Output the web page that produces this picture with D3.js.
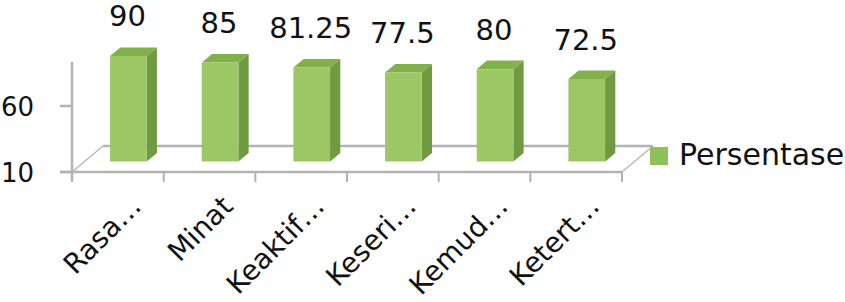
<!DOCTYPE html>
<html>
<head>
<meta charset="utf-8">
<script src="https://cdn.jsdelivr.net/npm/d3@7"></script>
<style>
  html, body { margin: 0; padding: 0; background: #ffffff; }
  svg { display: block; }
  text { font-family: "DejaVu Sans", sans-serif; fill: #111; }
</style>
</head>
<body>
<div id="chart"></div>
<script>
// ---- data ----
const categories = ["Rasa…", "Minat", "Keaktif…", "Keseri…", "Kemud…", "Ketert…"];
const values = [90, 85, 81.25, 77.5, 80, 72.5];
const valueLabels = ["90", "85", "81.25", "77.5", "80", "72.5"];
const yTicks = [10, 60];
const seriesName = "Persentase";

// ---- layout ----
const W = 845, H = 302;
const svg = d3.select("#chart").append("svg").attr("width", W).attr("height", H);

const x = d3.scaleBand().domain(categories).range([72, 622]).padding(0);
const y = d3.scaleLinear().domain([10, 60]).range([172, 106]);

// depth projection
const DX = 31, DY = -26;
const proj = (px, v, d) => [px + d * DX, y(v) + d * DY];

const axisColor = "#b3b3b3";
const frontColor = "#9bc864";
const sideColor = "#6f9a3f";
const topColor = "#82b04b";

// floor
const floor = svg.append("g");
const fl = [proj(72, 10, 0), proj(622, 10, 0), proj(622, 10, 1), proj(72, 10, 1)];
floor.append("line").attr("x1", fl[3][0]).attr("y1", fl[3][1]).attr("x2", fl[2][0]).attr("y2", fl[2][1])
  .attr("stroke", axisColor).attr("stroke-width", 2.5);
floor.append("line").attr("x1", fl[0][0]).attr("y1", fl[0][1]).attr("x2", fl[3][0]).attr("y2", fl[3][1])
  .attr("stroke", axisColor).attr("stroke-width", 1.2);
floor.append("line").attr("x1", fl[1][0]).attr("y1", fl[1][1]).attr("x2", fl[2][0]).attr("y2", fl[2][1])
  .attr("stroke", axisColor).attr("stroke-width", 1.2);

// front baseline axis with category ticks
const bottom = svg.append("g");
bottom.append("line").attr("x1", 60).attr("y1", y(10)).attr("x2", 622).attr("y2", y(10))
  .attr("stroke", axisColor).attr("stroke-width", 2.5);
const tickXs = categories.map(c => x(c) + x.bandwidth()).concat([72]);
bottom.selectAll("line.tk").data(tickXs).enter().append("line")
  .attr("class", "tk")
  .attr("x1", d => d).attr("x2", d => d)
  .attr("y1", y(10)).attr("y2", y(10) + 10)
  .attr("stroke", axisColor).attr("stroke-width", 2);

// vertical axis
svg.append("line").attr("x1", 72).attr("x2", 72).attr("y1", 62).attr("y2", y(10) + 10)
  .attr("stroke", axisColor).attr("stroke-width", 2.5);
svg.selectAll("line.ytk").data(yTicks).enter().append("line")
  .attr("class", "ytk")
  .attr("x1", 60).attr("x2", 72).attr("y1", d => y(d)).attr("y2", d => y(d))
  .attr("stroke", axisColor).attr("stroke-width", 2.5);
svg.selectAll("text.ylab").data(yTicks).enter().append("text")
  .attr("class", "ylab")
  .attr("x", 34).attr("y", d => y(d) + 10)
  .attr("text-anchor", "end")
  .style("font-size", "26px")
  .text(d => d);

// bars
const d0 = 0.4, d1 = 0.73;
const bw = x.bandwidth() * 0.4;
const bars = svg.append("g");
categories.forEach((c, i) => {
  const v = values[i];
  const xl = x(c) + x.bandwidth() * 0.28;
  const xr = xl + bw;
  const fBL = proj(xl, 10, d0), fBR = proj(xr, 10, d0), fTR = proj(xr, v, d0), fTL = proj(xl, v, d0);
  const bBR = proj(xr, 10, d1), bTR = proj(xr, v, d1), bTL = proj(xl, v, d1);
  const pts = a => a.map(p => p.join(",")).join(" ");
  bars.append("polygon").attr("points", pts([fBR, bBR, bTR, fTR])).attr("fill", sideColor);
  bars.append("polygon").attr("points", pts([fTL, fTR, bTR, bTL])).attr("fill", topColor);
  bars.append("polygon").attr("points", pts([fBL, fBR, fTR, fTL])).attr("fill", frontColor);
  svg.append("text")
    .attr("x", (fBL[0] + fBR[0]) / 2 - 1)
    .attr("y", bTR[1] - 21)
    .attr("text-anchor", "middle")
    .style("font-size", "29px")
    .text(valueLabels[i]);
});

// category labels
svg.selectAll("text.cat").data(categories).enter().append("text")
  .attr("class", "cat")
  .attr("text-anchor", "end")
  .style("font-size", "28px")
  .attr("transform", d => `translate(${x(d) + x.bandwidth() / 2 + 25},${208}) rotate(-45)`)
  .text(d => d);

// legend
svg.append("rect").attr("x", 650).attr("y", 147).attr("width", 18).attr("height", 18).attr("fill", "#8fc15a");
svg.append("text").attr("x", 679).attr("y", 165).style("font-size", "30px").text(seriesName);
</script>
</body>
</html>
